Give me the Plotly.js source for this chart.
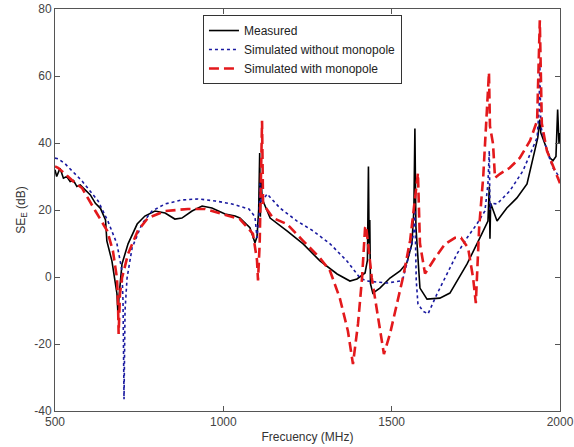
<!DOCTYPE html>
<html><head><meta charset="utf-8">
<script src="https://cdn.plot.ly/plotly-3.0.1.min.js"></script>
<style>html,body{margin:0;padding:0;background:#fff}#chart{width:574px;height:447px}</style>
</head><body><div id="chart"></div>
<script>
const freqMeasured = [500,505,515,525,535,545,555,565,575,590,605,620,635,650,654,669,678,684,687,690,699,717,744,767,797,827,856,877,907,937,966,1005,1035,1049,1079,1088,1094,1100,1105,1108,1110,1112,1115,1118,1139,1189,1237,1287,1338,1376,1397,1421,1428,1431,1433,1435,1437,1444,1465,1495,1525,1545,1560,1566,1569,1572,1584,1605,1643,1673,1694,1724,1762,1786,1790,1792,1794,1813,1842,1872,1902,1920,1934,1940,1943,1955,1970,1979,1988,1993,1997,2000];
const seMeasured   = [32,30,32.5,29.5,30,28.5,28.8,27,27.5,26,24.5,22,20.5,17,10.8,4.8,-2,-5,-11,-6,3.9,9.9,15.8,18.2,19.7,19.1,17.3,17.6,19.7,21.2,20.6,18.8,18.2,17.6,14.7,11.7,10.2,12,20,37,18,30,24,22.7,17.6,13.8,9.9,4.8,0.9,-1.2,-0.6,1.2,5,33,10,17,-2,-4.8,-3.3,-0.3,1.8,4.2,9.9,20,44.3,15,-3.3,-6.6,-6.3,-4.8,-1.2,3.9,11.7,16.7,27,11.4,22,16.7,20.6,23.6,27.8,35.6,41.6,47,43,39.8,35.6,34.7,36,50,40,43];

const freqNoMono = [500,509,530,580,628,657,684,699,702,704,705,708,714,729,758,788,827,877,925,976,1026,1076,1094,1100,1106,1109,1112,1130,1168,1219,1266,1317,1367,1406,1427,1486,1525,1534,1560,1566,1569,1573,1578,1593,1608,1635,1664,1694,1724,1753,1777,1786,1790,1792,1795,1813,1851,1890,1932,1938,1940,1943,1961,1979,2000];
const seNoMono   = [35.5,35.3,33.8,28.7,22.7,16.7,9.9,1.8,-7.2,-22,-36.5,-10,-0.3,8.7,15.8,19.7,21.8,23,23.3,22.7,21.8,20.3,18,11.7,18,28,22,24.8,20.6,16.7,13.8,9.9,4.8,-0.3,-1.2,-1.8,-1.2,-0.3,9.9,14,20,-1,-8,-10.2,-11,-5,0.9,6.9,11.7,15.8,19.7,27.8,37.7,20,22,21.8,25.7,31.7,41.6,50,64,45,37.7,32.6,29.6];

const freqWithMono = [500,509,530,560,580,600,620,655,672,684,687,689,693,699,717,746,776,827,895,946,1035,1049,1088,1100,1103,1108,1115,1118,1148,1189,1237,1287,1317,1346,1370,1385,1400,1412,1421,1424,1441,1459,1477,1495,1516,1534,1555,1566,1578,1584,1599,1629,1659,1688,1706,1727,1742,1750,1760,1772,1789,1792,1801,1807,1822,1851,1881,1911,1932,1940,1946,1961,1982,2000];
const seWithMono   = [33,32.6,30.8,28,26.6,23,19.7,13.8,7.8,-0.3,-7.2,-17,-5,-0.3,6.9,13.8,17.6,19.7,20.3,20.3,17.6,17.3,12.9,5,-1,10,46.6,21.8,17.6,15.8,10.8,5.7,1.8,-6.3,-16.1,-26,-14,-0.3,14.7,15.3,-0.3,-12.3,-23,-17,-8,0,11,20,31,10,1,5.7,9.9,11.7,11.7,8.7,-0.3,-7.8,15,30,61,45,39.8,29.6,30.8,32.6,35.6,40.7,46.6,76.6,45.8,37.7,32.6,28];

const seriesNames = ['Measured','Simulated without monopole','Simulated with monopole'];
const xTicks = [500,1000,1500,2000];
const yTicks = [-40,-20,0,20,40,60,80];

const traces = [
  {x: freqMeasured, y: seMeasured, name: seriesNames[0], mode:'lines', line:{color:'#000000', width:1.6}},
  {x: freqNoMono, y: seNoMono, name: seriesNames[1], mode:'lines', line:{color:'#1a1aa0', width:1.6, dash:'dot'}},
  {x: freqWithMono, y: seWithMono, name: seriesNames[2], mode:'lines', line:{color:'#e3191c', width:2.6, dash:'10px,5px'}}
];

const axisCommon = {
  showgrid:false, zeroline:false, showline:true, linecolor:'#555', linewidth:1,
  mirror:'ticks', ticks:'inside', ticklen:5, tickcolor:'#555',
  tickfont:{family:'Liberation Sans, Arial, sans-serif', size:12, color:'#444'}
};

const layout = {
  width:574, height:447,
  margin:{l:55, r:14, t:9, b:36},
  paper_bgcolor:'#fff', plot_bgcolor:'#fff',
  showlegend:true,
  legend:{x:0.293, y:0.985, xanchor:'left', yanchor:'top', bgcolor:'#fff', bordercolor:'#333', borderwidth:1,
    font:{family:'Liberation Sans, Arial, sans-serif', size:12, color:'#222'}, tracegroupgap:0, itemwidth:30},
  xaxis: Object.assign({}, axisCommon, {range:[500,2000], tickvals:xTicks, ticktext:xTicks.map(String),
    title:{text:'Frecuency (MHz)', font:{family:'Liberation Sans, Arial, sans-serif', size:12, color:'#333'}, standoff:4}}),
  yaxis: Object.assign({}, axisCommon, {range:[-40,80], tickvals:yTicks, ticktext:yTicks.map(String),
    title:{text:'SE<sub>E</sub> (dB)', font:{family:'Liberation Sans, Arial, sans-serif', size:12, color:'#333'}, standoff:6}})
};

Plotly.newPlot('chart', traces, layout, {staticPlot:true});
</script></body></html>
